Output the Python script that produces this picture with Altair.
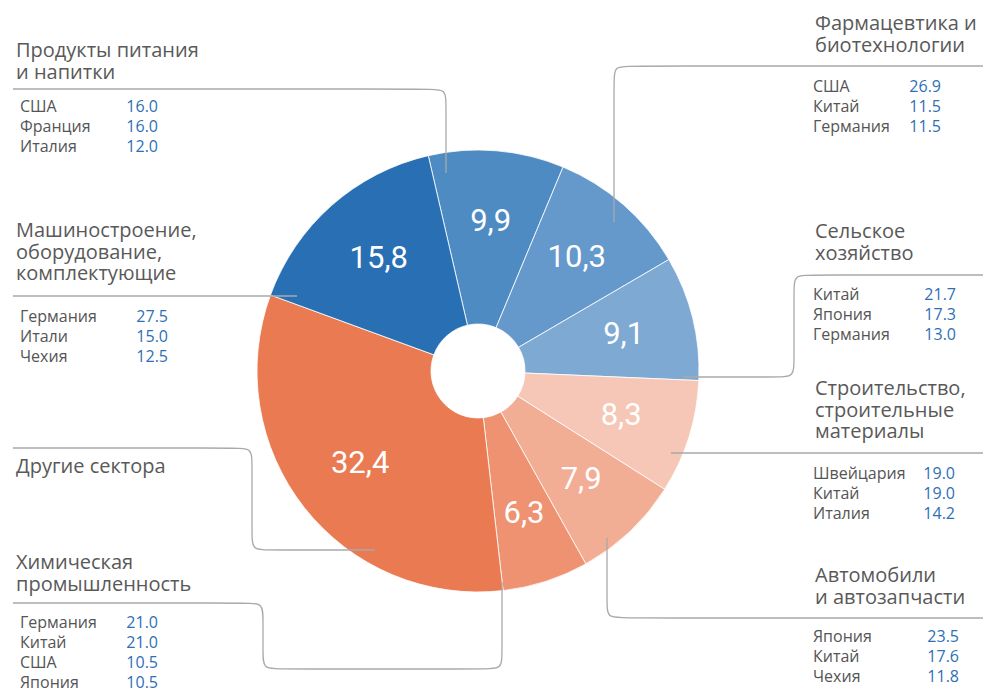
import math
import altair as alt
import pandas as pd

# ---------------- data ----------------
sectors = [
    "Продукты питания и напитки",
    "Фармацевтика и биотехнологии",
    "Сельское хозяйство",
    "Строительство, строительные материалы",
    "Автомобили и автозапчасти",
    "Химическая промышленность",
    "Другие сектора",
    "Машиностроение, оборудование, комплектующие",
]
shares = [9.9, 10.3, 9.1, 8.3, 7.9, 6.3, 32.4, 15.8]
slice_colors = ["#4f8bc3", "#6699cb", "#7ea9d3", "#f6c7b7",
                "#f2ad95", "#ee9272", "#ea7a52", "#286fb4"]

title_lines = [
    ["Продукты питания", "и напитки"],
    ["Фармацевтика и", "биотехнологии"],
    ["Сельское", "хозяйство"],
    ["Строительство,", "строительные", "материалы"],
    ["Автомобили", "и автозапчасти"],
    ["Химическая", "промышленность"],
    ["Другие сектора"],
    ["Машиностроение,", "оборудование,", "комплектующие"],
]
countries = [
    ["США", "Франция", "Италия"],
    ["США", "Китай", "Германия"],
    ["Китай", "Япония", "Германия"],
    ["Швейцария", "Китай", "Италия"],
    ["Япония", "Китай", "Чехия"],
    ["Германия", "Китай", "США", "Япония"],
    [],
    ["Германия", "Итали", "Чехия"],
]
country_values = [
    [16.0, 16.0, 12.0],
    [26.9, 11.5, 11.5],
    [21.7, 17.3, 13.0],
    [19.0, 19.0, 14.2],
    [23.5, 17.6, 11.8],
    [21.0, 21.0, 10.5, 10.5],
    [],
    [27.5, 15.0, 12.5],
]

# ---------------- layout (page pixels) ----------------
OFF = 8
W, H = 975, 684
CX, CY = 478 - OFF, 371 - OFF
R_OUT, R_IN = 221, 47
START = math.radians(-13)

title_pos = [(16, 57), (815, 30), (815, 238), (815, 395),
             (815, 582), (16, 569), (16, 473), (16, 237)]
LINE_H = 21.5
rows_pos = [(20, 107, 158), (813, 87, 941), (813, 295, 956), (813, 474, 955),
            (813, 637, 959), (20, 623, 158), None, (20, 317, 168)]
ROW_H = 20

leaders = [
    [(13, 89), (430, 89), (446, 89), (446, 105), (446, 173)],
    [(990, 66), (630, 66), (614, 66), (614, 82), (614, 222)],
    [(990, 275), (810, 275), (794, 275), (794, 291), (794, 361), (794, 377), (778, 377), (683, 377)],
    [(990, 453), (671, 453)],
    [(990, 618), (623, 618), (607, 618), (607, 602), (607, 538)],
    [(13, 603), (247, 603), (263, 603), (263, 619), (263, 653), (263, 669), (279, 669),
     (486, 669), (502, 669), (502, 653), (502, 582)],
    [(13, 448), (236, 448), (252, 448), (252, 464), (252, 534), (252, 550), (268, 550), (375, 550)],
    [(13, 296), (297, 296)],
]

# ---------------- tables ----------------
pie_df = pd.DataFrame({
    "sector": sectors,
    "share": shares,
    "idx": list(range(len(sectors))),
    "label": [f"{v:.1f}".replace(".", ",") for v in shares],
})

t_rows = []
for i, lines in enumerate(title_lines):
    x0, y0 = title_pos[i]
    for j, t in enumerate(lines):
        t_rows.append({"x": x0 - OFF, "y": y0 + j * LINE_H - OFF, "text": t})
titles_df = pd.DataFrame(t_rows)

c_rows, v_rows = [], []
for i, cs in enumerate(countries):
    if not cs:
        continue
    xc, y0, xv = rows_pos[i]
    for j, (c, v) in enumerate(zip(cs, country_values[i])):
        y = y0 + j * ROW_H - OFF
        c_rows.append({"x": xc - OFF, "y": y, "text": c})
        v_rows.append({"x": xv - OFF, "y": y, "text": f"{v:.1f}"})
countries_df = pd.DataFrame(c_rows)
values_df = pd.DataFrame(v_rows)

l_rows = []
for i, pts in enumerate(leaders):
    for k, (x, y) in enumerate(pts):
        l_rows.append({"lid": i, "k": k, "x": x - OFF, "y": y - OFF})
lines_df = pd.DataFrame(l_rows)

# ---------------- chart ----------------
theta = alt.Theta("share:Q", stack=True,
                  scale=alt.Scale(range=[START, START + 2 * math.pi]))

pie = alt.Chart(pie_df).mark_arc(
    outerRadius=R_OUT, innerRadius=R_IN, stroke="white", strokeWidth=0.8
).encode(
    theta=theta,
    order=alt.Order("idx:Q"),
    color=alt.Color("sector:N", sort=sectors,
                    scale=alt.Scale(domain=sectors, range=slice_colors), legend=None),
    x=alt.value(CX), y=alt.value(CY),
)

slice_labels = alt.Chart(pie_df).mark_text(
    radius=150, font="Roboto", fontSize=31,
    color="white", align="center", baseline="middle"
).encode(
    theta=theta,
    order=alt.Order("idx:Q"),
    text="label:N",
    x=alt.value(CX), y=alt.value(CY),
)

leader_lines = alt.Chart(lines_df).mark_line(
    color="#a9a9a9", strokeWidth=1.3, interpolate="basis"
).encode(
    x=alt.X("x:Q", scale=None),
    y=alt.Y("y:Q", scale=None),
    detail="lid:N",
    order="k:Q",
)

titles = alt.Chart(titles_df).mark_text(
    font="Open Sans", fontSize=20, color="#595959", align="left", baseline="alphabetic"
).encode(x=alt.X("x:Q", scale=None), y=alt.Y("y:Q", scale=None), text="text:N")

country_txt = alt.Chart(countries_df).mark_text(
    font="Open Sans", fontSize=16, color="#555555", align="left", baseline="middle"
).encode(x=alt.X("x:Q", scale=None), y=alt.Y("y:Q", scale=None), text="text:N")

value_txt = alt.Chart(values_df).mark_text(
    font="Open Sans", fontSize=16, color="#2e6fb7", align="right", baseline="middle"
).encode(x=alt.X("x:Q", scale=None), y=alt.Y("y:Q", scale=None), text="text:N")

chart = alt.layer(pie, slice_labels, leader_lines, titles, country_txt, value_txt).properties(
    width=W, height=H, padding=0, autosize=alt.AutoSizeParams(type="none"),
    background="white",
).configure_view(stroke=None)

chart.save("out.html", embed_options={"renderer": "svg", "actions": False})
